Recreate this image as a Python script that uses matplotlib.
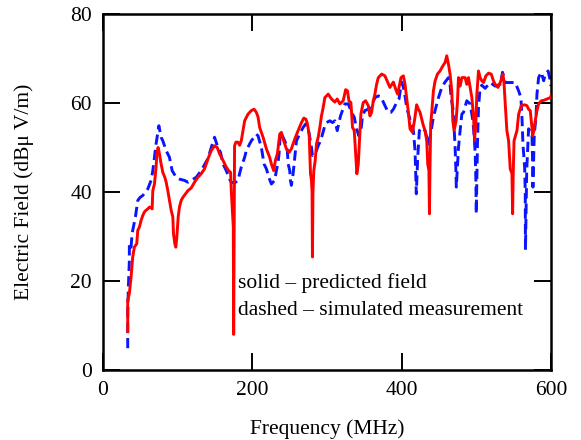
import matplotlib
matplotlib.use("Agg")
import matplotlib.pyplot as plt

# predicted field (solid red)
pred_freq = [33.1, 33.1, 35.3, 37.6, 39.8, 42.0, 45.2, 46.6, 48.7, 51.0, 53.2, 55.4, 57.7, 60.0,
             62.2, 64.4, 65.8, 66.7, 68.9, 70.2, 71.1, 72.1, 73.8, 75.6, 77.4, 80.1, 82.8, 84.6,
             86.8, 89.0, 91.3, 93.5, 94.4, 96.2, 97.5, 98.9, 100.7, 102.4, 104.7, 107.0, 110.5,
             113.7, 118.1, 122.6, 127.1, 131.5, 136.0, 140.5, 145.0, 149.4, 153.0, 156.1, 160.7,
             165.1, 168.2, 170.9, 171.8, 173.5, 174.5, 175.0, 175.6, 176.2, 178.0, 180.8, 183.0,
             185.2, 187.5, 189.7, 194.2, 198.7, 202.3, 205.4, 207.7, 209.8, 214.4, 218.8, 223.2,
             225.5, 228.6, 230.9, 233.6, 236.7, 238.9, 241.2, 243.4, 245.6, 249.2, 252.3, 256.8,
             261.3, 265.8, 268.9, 271.5, 273.4, 276.1, 277.9, 279.2, 280.0, 280.5, 281.2, 282.3,
             284.2, 285.9, 288.2, 290.4, 292.6, 294.9, 297.1, 301.6, 306.1, 310.5, 313.7, 317.2,
             321.7, 325.0, 327.5, 329.3, 332.0, 334.2, 336.5, 338.3, 340.0, 341.9, 344.0, 345.4,
             348.5, 351.7, 355.3, 357.5, 359.7, 362.0, 364.2, 366.4, 368.7, 373.2, 377.6, 381.2,
             384.3, 388.9, 392.0, 394.6, 396.4, 399.1, 402.3, 404.5, 406.7, 409.0, 411.2, 414.4,
             417.1, 420.1, 422.4, 424.6, 426.9, 429.1, 431.3, 433.6, 434.9, 436.5, 437.2, 437.9,
             438.9, 440.3, 442.5, 444.7, 447.9, 451.4, 455.0, 458.1, 460.4, 462.7, 464.8, 467.1,
             468.5, 470.2, 472.9, 474.8, 476.1, 478.3, 480.6, 485.0, 487.2, 489.5, 491.7, 494.0,
             496.3, 497.6, 499.4, 500.7, 502.9, 505.1, 507.4, 509.7, 512.8, 516.4, 519.9, 523.1,
             525.2, 528.9, 532.0, 534.2, 535.6, 536.9, 538.7, 540.9, 543.2, 545.4, 547.7, 548.6,
             549.4, 550.5, 554.4, 556.7, 560.2, 564.7, 567.8, 570.0, 572.2, 574.5, 575.3, 577.1,
             578.9, 581.2, 583.4, 587.0, 590.2, 594.6, 599.1, 600.0]
pred_db = [8.6, 15.7, 17.2, 20.9, 25.4, 27.6, 28.4, 31.4, 32.1, 33.6, 34.7, 35.5, 35.9, 36.2,
           36.6, 36.5, 36.2, 40.3, 41.8, 44.1, 45.6, 48.6, 50.0, 48.6, 46.7, 44.4, 43.3, 42.2,
           40.3, 38.1, 35.9, 34.4, 30.6, 28.4, 27.6, 29.9, 34.4, 36.6, 38.1, 38.8, 39.6,
           40.3, 40.9, 42.2, 43.3, 44.1, 45.2, 47.4, 49.3, 50.4, 50.0, 48.6, 47.1,
           45.6, 44.8, 44.4, 40.3, 35.1, 32.1, 8.0, 30.0, 50.4, 51.2, 51.2, 50.5,
           51.5, 53.8, 56.0, 57.5, 58.3, 58.6, 57.9, 56.8, 54.5, 52.3, 49.7, 47.8,
           46.3, 44.8, 47.1, 48.6, 53.0, 53.4, 51.9, 50.8, 49.7, 48.9, 49.7, 51.9,
           53.8, 55.6, 56.6, 56.4, 55.6, 53.0, 44.1, 42.6, 40.0, 25.4, 40.0, 44.8,
           47.1, 50.8, 52.3, 54.5, 57.1, 59.0, 61.2, 62.0, 60.9, 60.2, 60.9, 59.8,
           60.5, 63.0, 62.7, 60.5, 60.1, 54.5, 53.8, 48.6, 44.1, 46.3, 53.0, 57.5,
           60.1, 60.5, 59.4, 57.1, 57.9, 60.5, 62.0, 64.2, 65.7, 66.5, 66.1, 64.7,
           63.5, 64.7, 63.1, 62.0, 63.5, 65.7, 66.1, 64.2, 61.2, 57.9, 54.2, 53.4,
           56.0, 59.6, 58.6, 57.9, 56.4, 54.9, 53.8, 51.5, 46.3, 44.8, 35.1, 45.0,
           55.3, 57.9, 62.7, 64.9, 66.5, 67.2, 68.3, 69.1, 70.6, 68.7, 66.5, 62.7,
           56.0, 53.8, 56.0, 60.5, 65.7, 63.8, 65.7, 65.7, 64.2, 65.7, 63.5, 61.2,
           56.8, 51.5, 56.0, 62.0, 67.2, 65.7, 65.0, 64.6, 66.1, 66.7, 66.5, 64.9,
           64.2, 63.5, 64.6, 65.7, 66.5, 64.9, 59.8, 53.8, 51.5, 45.2, 44.1, 35.1,
           44.1, 51.5, 53.8, 57.5, 59.4, 59.6, 59.4, 58.6, 58.3, 54.5, 52.6, 53.8,
           56.0, 58.3, 59.8, 60.5, 60.6, 60.9, 61.2, 61.6]

# simulated measurement (dashed blue)
meas_freq = [33.1, 33.1, 34.0, 35.3, 35.3, 37.6, 38.9, 40.7, 43.4, 46.6, 49.7, 53.2, 60.0, 64.4,
             66.7, 68.9, 71.1, 74.8, 77.9, 80.1, 84.6, 89.0, 92.6, 98.0, 102.4, 109.1, 113.7,
             118.1, 124.8, 131.5, 140.5, 145.0, 149.4, 153.9, 157.4, 160.7, 165.1, 169.5, 171.8,
             176.0, 180.8, 182.9, 185.2, 189.7, 191.9, 196.4, 198.7, 205.4, 207.7, 212.1, 215.7,
             218.8, 223.2, 225.5, 229.9, 232.2, 234.5, 235.8, 237.6, 240.3, 243.4, 246.6, 248.0,
             250.1, 251.0, 252.3, 254.6, 256.8, 259.1, 261.3, 264.4, 268.0, 271.5, 274.7, 276.9,
             279.2, 280.5, 283.6, 285.9, 288.2, 291.3, 294.0, 297.1, 299.3, 303.8, 307.4, 310.5,
             313.7, 318.1, 323.9, 328.5, 332.9, 336.5, 339.6, 342.7, 345.4, 347.6, 350.7, 355.3,
             359.7, 364.2, 368.7, 372.2, 377.6, 382.1, 385.6, 388.9, 393.3, 396.4, 400.0, 402.3,
             404.5, 406.7, 409.8, 412.5, 415.7, 417.9, 418.8, 419.6, 421.5, 423.7, 426.9, 431.3,
             435.8, 438.9, 441.6, 444.7, 449.3, 453.7, 458.1, 462.7, 464.8, 466.2, 468.5, 470.2,
             471.6, 472.5, 473.2, 476.1, 478.3, 480.6, 482.8, 487.2, 491.7, 495.4, 497.2, 498.5,
             499.4, 499.9, 501.6, 502.9, 505.1, 507.4, 511.8, 518.5, 525.2, 532.0, 535.1, 538.7,
             545.4, 552.1, 556.7, 559.7, 561.1, 562.4, 564.7, 565.5, 565.8, 567.5, 570.0, 574.5,
             575.3, 575.8, 577.6, 579.9, 581.2, 583.4, 587.0, 590.2, 592.4, 596.1, 599.1, 600.0]
meas_db = [4.9, 12.7, 18.7, 24.6, 28.4, 27.6, 30.6, 32.1, 34.4, 38.1, 38.8, 39.2, 40.7, 42.6,
           44.8, 47.8, 50.8, 54.9, 52.3, 51.5, 49.3, 47.8, 44.8, 43.3, 42.9, 42.6, 42.2,
           42.6, 43.3, 44.8, 47.5, 50.0, 52.3, 50.0, 48.9, 46.3, 44.8, 42.9, 42.2,
           42.0, 42.6, 44.1, 45.6, 47.8, 49.3, 50.8, 51.5, 53.0, 52.6, 50.0, 46.3,
           45.2, 42.8, 41.8, 42.6, 44.8, 46.7, 48.6, 53.4, 52.6, 51.5, 50.0, 46.3,
           44.8, 42.6, 41.5, 44.1, 47.8, 51.5, 52.3, 53.4, 54.5, 55.3, 54.2, 52.3,
           50.0, 48.2, 48.6, 49.3, 50.4, 51.5, 53.0, 54.9, 55.6, 56.0, 55.6, 56.0,
           53.8, 57.1, 59.8, 59.8, 57.9, 56.8, 54.2, 52.6, 53.8, 57.1, 58.3, 58.6,
           59.4, 61.2, 61.6, 61.4, 59.4, 57.9, 57.9, 58.6, 60.1, 60.9, 64.7, 63.5,
           61.6, 59.0, 57.1, 55.6, 53.8, 49.3, 44.1, 39.6, 47.8, 53.8, 54.5, 53.8,
           50.8, 53.0, 56.0, 58.3, 61.2, 63.5, 64.7, 65.7, 64.2, 61.2, 59.0, 54.5,
           50.0, 45.6, 41.1, 50.0, 53.8, 57.5, 57.9, 60.5, 59.8, 56.0, 52.3, 48.6,
           42.6, 35.1, 51.5, 59.0, 63.5, 64.0, 63.3, 64.6, 63.8, 64.2, 66.9, 64.6,
           64.6, 64.6, 62.7, 61.2, 56.8, 50.8, 45.6, 40.3, 27.0, 45.0, 54.2, 53.0,
           47.1, 41.1, 53.0, 56.8, 62.0, 65.7, 66.9, 65.0, 66.5, 67.2, 65.0, 63.8]

xticks = [0, 200, 400, 600]
yticks = [0, 20, 40, 60, 80]

plt.rcParams['font.family'] = ['Liberation Serif', 'DejaVu Serif']
plt.rcParams['font.size'] = 15

fig = plt.figure(figsize=(5.81, 4.40), dpi=100)
ax = fig.add_axes([103 / 581, 70 / 440, 448 / 581, 356 / 440])

ax.plot(meas_freq, meas_db, color='#0a14ff', lw=2.1, dashes=(3.5, 1.8), zorder=2)
ax.plot(pred_freq, pred_db, color='#ff0000', lw=2.1, zorder=3)

ax.set_xlim(0, 600)
ax.set_ylim(0, 80)
ax.set_xticks(xticks)
ax.set_yticks(yticks)
ax.tick_params(direction='in', length=12, width=1.4, top=True, right=True,
               labelsize=15.5, pad=8)
for s in ax.spines.values():
    s.set_linewidth(1.8)

ax.set_xlabel('Frequency (MHz)', fontsize=15.5, labelpad=14)
ax.set_ylabel('Electric Field (dBμ V/m)', fontsize=15.5, labelpad=26)

ax.text(181, 19.5, 'solid – predicted field', fontsize=15.5, va='center')
ax.text(181, 13.4, 'dashed – simulated measurement', fontsize=15.5, va='center')

fig.savefig('out.png', dpi=100)
